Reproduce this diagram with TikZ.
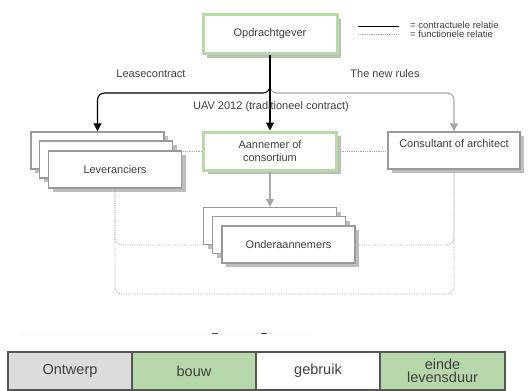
\documentclass[tikz,border=0pt]{standalone}
\usepackage{fontspec}
\setmainfont{Liberation Sans}
\usetikzlibrary{arrows.meta,shadows}

\definecolor{txt}{HTML}{404040}
\definecolor{boxgray}{HTML}{9A9A9A}
\definecolor{shadowgray}{HTML}{BDBDBD}
\definecolor{keygreen}{HTML}{B9D9A9}
\definecolor{phasegreen}{HTML}{B7D8AA}
\definecolor{phasegray}{HTML}{DCDCDC}
\definecolor{barline}{HTML}{555555}
\definecolor{funcgray}{HTML}{A8A8A8}

\tikzset{
  card/.style={draw=boxgray, line width=1.4pt, fill=white,
    minimum width=133pt, minimum height=37pt, inner sep=0pt,
    drop shadow={shadow xshift=4pt, shadow yshift=-4pt, fill=shadowgray, opacity=1},
    font=\fontsize{11}{13}\selectfont, text=txt, align=center},
  keycard/.style={card, draw=keygreen, line width=3pt},
  contract/.style={draw=black, line width=1.1pt, rounded corners=7pt,
    -{Triangle[width=8pt,length=8pt]}},
  softlink/.style={draw=funcgray, line width=1.1pt, rounded corners=7pt,
    -{Triangle[width=8pt,length=8pt,fill=funcgray]}},
  func/.style={draw=funcgray, line width=0.8pt, densely dotted, rounded corners=7pt},
  lbl/.style={font=\fontsize{11}{13}\selectfont, text=txt, inner sep=0pt},
  legendtxt/.style={font=\fontsize{9.5}{10}\selectfont, text=txt, inner sep=0pt, anchor=west},
  phase/.style={draw=barline, line width=2pt, minimum width=124pt, minimum height=38pt,
    inner sep=0pt, font=\fontsize{14.5}{15}\selectfont, text=txt, align=center},
}

\begin{document}
\begin{tikzpicture}[x=1pt,y=-1pt]
\useasboundingbox (0,0) rectangle (528,391);

% top party
\node[keycard, minimum width=134pt, minimum height=39pt] (opd) at (270,34) {Opdrachtgever};

% legend
\coordinate (la) at (358,26); \coordinate (lb) at (399,26);
\coordinate (lc) at (358,34); \coordinate (ld) at (399,34);
\draw[black, line width=0.9pt] (la) -- (lb);
\draw[funcgray, line width=0.8pt, densely dotted] (lc) -- (ld);
\node[legendtxt] (legA) at (410,25.5) {= contractuele relatie};
\node[legendtxt] (legB) at (410,34) {= functionele relatie};

% suppliers (stack)
\node[card] (lev3) at (97.5,150.5) {};
\node[card] (lev2) at (106,159.5) {};
\node[card] (lev) at (115,169.5) {Leveranciers};

% contractor and consultant
\node[keycard, minimum width=133pt, minimum height=38pt] (aan) at (270,151) {Aannemer of\\consortium};
\node[card, minimum width=132pt] (cons) at (454,150.5) {Consultant of architect\\\mbox{}};

% functional relations
\coordinate (r1) at (0,245);
\coordinate (r2) at (0,294);
\draw[func] (lev.south) |- (cons.south |- r1) -- (cons.south);
\draw[func] (lev.south) |- (cons.south |- r2) -- (cons.south);
\draw[func, rounded corners=0pt] (aan.west) -- (aan.west -| lev.east);
\draw[func, rounded corners=0pt] (aan.east) -- (aan.east -| cons.west);

% subcontractors (stack)
\node[card] (ond3) at (270,226) {};
\node[card] (ond2) at (279,235) {};
\node[card] (ond) at (288.5,244.5) {Onderaannemers};

% contract lines
\coordinate (split) at (270,80);
\draw[softlink] (split) |- (cons.north |- 0,93) -- (cons.north);
\draw[contract] (opd.south) |- (lev3.north |- 0,93) -- (lev3.north);
\draw[contract, rounded corners=0pt] (opd.south) -- (aan.north);
\draw[softlink, rounded corners=0pt] (aan.south) -- (ond3.north);

% labels
\node[lbl] (lease) at (151,74) {Leasecontract};
\node[lbl] (rules) at (385,74) {The new rules};
\node[lbl] (uav) at (271,106.5) {UAV 2012 (traditioneel contract)};

% faint marks above the bar
\coordinate (fa) at (20,334); \coordinate (fb) at (310,334);
\draw[black!3, line width=1pt] (fa) -- (fb);
\coordinate (da) at (212,333.5); \coordinate (db) at (218,333.5);
\coordinate (dc) at (261,333.5); \coordinate (dd) at (267,333.5);
\draw[black!70, line width=1pt] (da) -- (db);
\draw[black!70, line width=1pt] (dc) -- (dd);

% life-cycle bar
\node[phase, fill=phasegray] (p1) at (70,371) {Ontwerp};
\node[phase, fill=phasegreen] (p2) at (194,371) {bouw};
\node[phase, fill=white] (p3) at (318,371) {gebruik};
\node[phase, fill=phasegreen, minimum width=125pt] (p4) at (442.5,371) {einde\\[-2pt]levensduur};
\end{tikzpicture}
\end{document}
